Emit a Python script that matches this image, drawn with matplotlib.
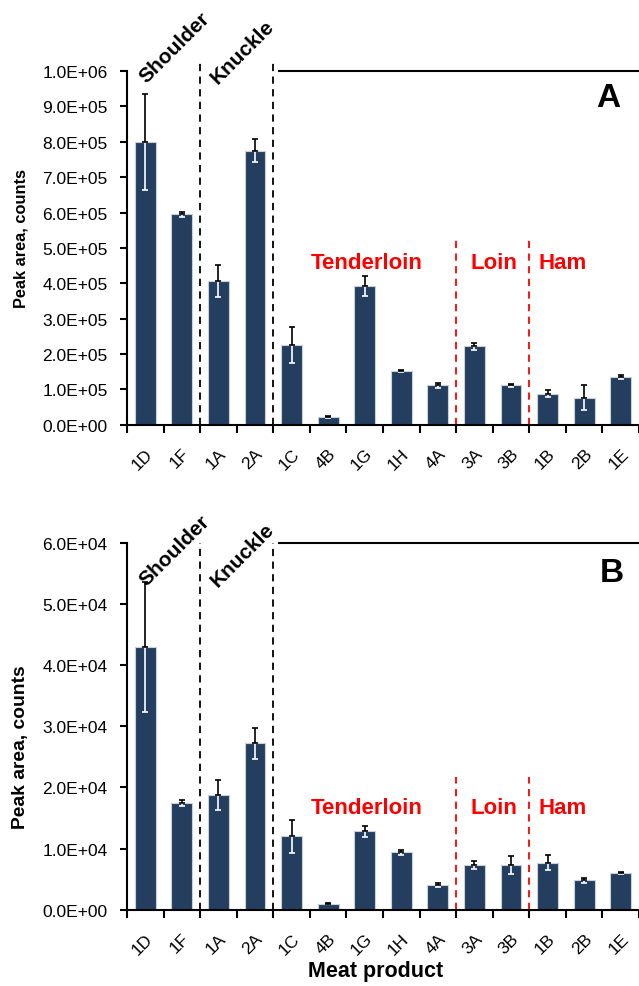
import matplotlib.pyplot as plt
import numpy as np

plt.rcParams['font.family'] = ['Liberation Sans', 'DejaVu Sans']

products = ['1D', '1F', '1A', '2A', '1C', '4B', '1G', '1H', '4A', '3A', '3B', '1B', '2B', '1E']

# panel A
peak_a = [8.0e5, 5.95e5, 4.07e5, 7.75e5, 2.25e5, 0.22e5, 3.93e5, 1.52e5, 1.11e5, 2.22e5, 1.11e5, 0.87e5, 0.76e5, 1.35e5]
err_a = [1.35e5, 0.07e5, 0.45e5, 0.33e5, 0.50e5, 0.02e5, 0.28e5, 0.04e5, 0.07e5, 0.10e5, 0.04e5, 0.10e5, 0.35e5, 0.06e5]

# panel B
peak_b = [4.3e4, 1.75e4, 1.88e4, 2.72e4, 1.2e4, 0.1e4, 1.28e4, 0.94e4, 0.4e4, 0.73e4, 0.73e4, 0.77e4, 0.48e4, 0.6e4]
err_b = [1.07e4, 0.05e4, 0.25e4, 0.25e4, 0.27e4, 0.01e4, 0.09e4, 0.04e4, 0.03e4, 0.06e4, 0.15e4, 0.12e4, 0.04e4, 0.02e4]

bar_color = '#243e60'


def sci(t):
    if t == 0:
        return '0.0E+00'
    e = int(np.floor(np.log10(t) + 1e-9))
    return '%.1fE+%02d' % (t / 10 ** e, e)


def panel(ax, vals, errs, ymax, step, letter, letter_xy, grp_y, red_top, dash_top, top_text_dy):
    x = np.arange(len(products))
    ax.bar(x, vals, width=0.57, color=bar_color, edgecolor='#c8d0dc', linewidth=0.8, zorder=2)
    zeros = [0] * len(vals)
    # lower half of the error bar white (inside the bar), upper half black
    ax.errorbar(x, vals, yerr=[errs, zeros], fmt='none', ecolor='white', elinewidth=1.2, capsize=2.5, capthick=1.2, zorder=3)
    ax.errorbar(x, vals, yerr=[zeros, errs], fmt='none', ecolor='black', elinewidth=1.2, capsize=2.5, capthick=1.2, zorder=3)

    ax.set_xlim(-0.5, len(products) - 0.5)
    ax.set_ylim(0, ymax)
    ticks = np.arange(0, ymax + step / 2, step)
    ax.set_yticks(ticks)
    ax.set_yticklabels([sci(t) for t in ticks], fontsize=12.5)
    ax.set_xticks(x)
    ax.set_xticklabels(products, rotation=45, ha='right', rotation_mode='anchor', fontsize=12.5)
    ax.set_xticks(np.arange(-0.5, len(products)), minor=True)
    ax.tick_params(axis='x', which='major', length=0, pad=15)
    ax.tick_params(axis='x', which='minor', length=6, width=1.5, direction='out')
    ax.tick_params(axis='y', length=5, width=1.5, direction='out', pad=9)
    for s in ['top', 'right']:
        ax.spines[s].set_visible(False)
    for s in ['left', 'bottom']:
        ax.spines[s].set_linewidth(1.5)

    for bx in [1.5, 3.5]:
        ax.plot([bx, bx], [0, dash_top], color='black', ls=(0, (4, 3)), lw=1.3, clip_on=False, zorder=1)
    for bx in [8.5, 10.5]:
        ax.plot([bx, bx], [0, red_top], color='red', ls=(0, (4, 3)), lw=1.3, clip_on=False, zorder=1)
    ax.plot([3.65, 13.5], [ymax, ymax], color='black', lw=1.5, clip_on=False)

    ax.text(0.8, ymax + top_text_dy[0], 'Shoulder', rotation=45, ha='center', va='center', fontsize=15, fontweight='bold')
    ax.text(2.67, ymax + top_text_dy[1], 'Knuckle', rotation=45, ha='center', va='center', fontsize=15, fontweight='bold')
    ax.text(6.06, grp_y, 'Tenderloin', color='red', ha='center', va='center', fontsize=16, fontweight='bold')
    ax.text(9.54, grp_y, 'Loin', color='red', ha='center', va='center', fontsize=16, fontweight='bold')
    ax.text(11.4, grp_y, 'Ham', color='red', ha='center', va='center', fontsize=16, fontweight='bold')
    ax.text(letter_xy[0], letter_xy[1], letter, transform=ax.transAxes, ha='center', va='center', fontsize=24, fontweight='bold')


fig = plt.figure(figsize=(6.39, 9.87), dpi=100)
ax_a = fig.add_axes([0.1987, 0.5687, 0.8013, 0.3583])
ax_b = fig.add_axes([0.1987, 0.0773, 0.8013, 0.3715])

panel(ax_a, peak_a, err_a, 1.0e6, 1.0e5, 'A', (0.939, 0.926),
      grp_y=4.6e5, red_top=5.25e5, dash_top=1.028e6, top_text_dy=(0.68e5, 0.56e5))
panel(ax_b, peak_b, err_b, 6.0e4, 1.0e4, 'B', (0.947, 0.921),
      grp_y=1.68e4, red_top=2.17e4, dash_top=6.0e4, top_text_dy=(-0.113e4, -0.18e4))

fig.text(21 / 639, 1 - 238 / 987, 'Peak area, counts', rotation=90, ha='center', va='center', fontsize=11.8, fontweight='bold')
fig.text(21 / 639, 1 - 747 / 987, 'Peak area, counts', rotation=90, ha='center', va='center', fontsize=13.9, fontweight='bold')
fig.text(376 / 639, 1 - 972 / 987, 'Meat product', ha='center', va='center', fontsize=15.5, fontweight='bold')

fig.savefig('out.png', dpi=100)
